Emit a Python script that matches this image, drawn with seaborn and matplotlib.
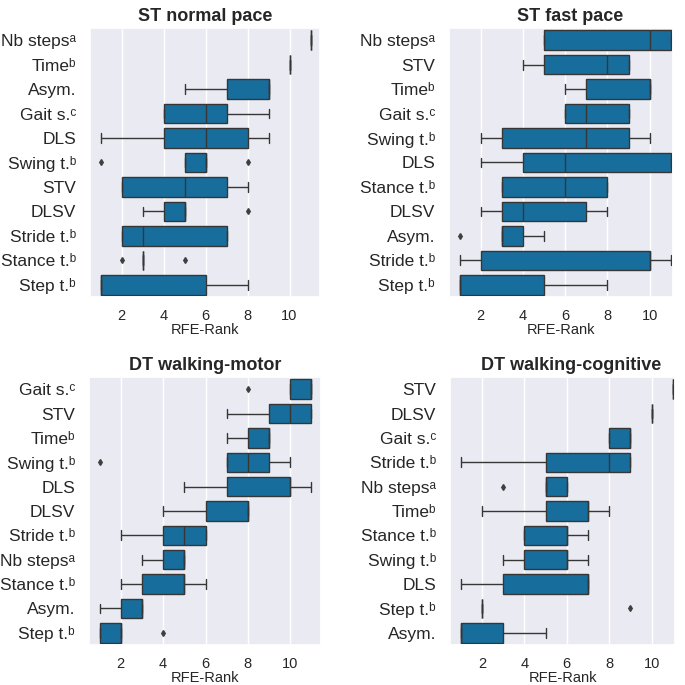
import pandas as pd
import matplotlib
matplotlib.use('Agg')
import matplotlib.pyplot as plt
import seaborn as sns

# feature labels (superscripts as in the paper)
NB = 'Nb steps\u1d43'
TIME = 'Time\u1d47'
GAIT = 'Gait s.\u1d9c'
SWING = 'Swing t.\u1d47'
STRIDE = 'Stride t.\u1d47'
STANCE = 'Stance t.\u1d47'
STEP = 'Step t.\u1d47'

# 1. RFE ranks per feature (5 values per feature)
normal_features = [NB, TIME, 'Asym.', GAIT, 'DLS', SWING, 'STV', 'DLSV', STRIDE, STANCE, STEP]
normal_ranks = [[11, 11, 11, 11, 11], [10, 10, 10, 10, 10], [5, 7, 9, 9, 9], [4, 4, 6, 7, 9],
                [1, 4, 6, 8, 9], [1, 5, 6, 6, 8], [2, 2, 5, 7, 8], [3, 4, 5, 5, 8],
                [2, 2, 3, 7, 7], [2, 3, 3, 3, 5], [1, 1, 1, 6, 8]]

fast_features = [NB, 'STV', TIME, GAIT, SWING, 'DLS', STANCE, 'DLSV', 'Asym.', STRIDE, STEP]
fast_ranks = [[5, 5, 10, 11, 11], [4, 5, 8, 9, 9], [6, 7, 10, 10, 10], [6, 6, 7, 9, 9],
              [2, 3, 7, 9, 10], [2, 4, 6, 11, 11], [3, 3, 6, 8, 8], [2, 3, 4, 7, 8],
              [1, 3, 3, 4, 5], [1, 2, 10, 10, 11], [1, 1, 1, 5, 8]]

motor_features = [GAIT, 'STV', TIME, SWING, 'DLS', 'DLSV', STRIDE, NB, STANCE, 'Asym.', STEP]
motor_ranks = [[8, 10, 11, 11, 11], [7, 9, 10, 11, 11], [7, 8, 9, 9, 9], [1, 7, 8, 9, 10],
               [5, 7, 10, 10, 11], [4, 6, 8, 8, 8], [2, 4, 5, 6, 6], [3, 4, 5, 5, 5],
               [2, 3, 5, 5, 6], [1, 2, 3, 3, 3], [1, 1, 2, 2, 4]]

cog_features = ['STV', 'DLSV', GAIT, STRIDE, NB, TIME, STANCE, SWING, 'DLS', STEP, 'Asym.']
cog_ranks = [[11, 11, 11, 11, 11], [10, 10, 10, 10, 10], [8, 8, 9, 9, 9], [1, 5, 8, 9, 9],
             [3, 5, 5, 6, 6], [2, 5, 7, 7, 8], [4, 4, 6, 6, 7], [3, 4, 6, 6, 7],
             [1, 3, 7, 7, 7], [2, 2, 2, 2, 9], [1, 1, 1, 3, 5]]

titles = ['ST normal pace', 'ST fast pace', 'DT walking-motor', 'DT walking-cognitive']
panels = [(normal_features, normal_ranks), (fast_features, fast_ranks),
          (motor_features, motor_ranks), (cog_features, cog_ranks)]


def to_long(features, ranks):
    rows = []
    for f, vals in zip(features, ranks):
        for v in vals:
            rows.append({'Feature': f, 'RFE-Rank': v})
    return pd.DataFrame(rows)


sns.set_theme(style='darkgrid')
plt.rcParams['font.family'] = ['Liberation Sans', 'DejaVu Sans']

fig = plt.figure(figsize=(6.85, 6.85), dpi=100)
# axes boxes in pixels: left, top, width, height
boxes = [(90, 28, 230, 269), (449, 28, 224, 269), (89, 377, 232, 268), (450, 377, 225, 268)]
box_color = sns.color_palette('colorblind')[0]
flier = dict(marker='d', markerfacecolor='#3f3f3f', markeredgecolor='#3f3f3f', markersize=3)

for (features, ranks), title, (l, t, w, h), i in zip(panels, titles, boxes, range(4)):
    ax = fig.add_axes([l / 685, 1 - (t + h) / 685, w / 685, h / 685])
    df = to_long(features, ranks)
    sns.boxplot(data=df, x='RFE-Rank', y='Feature', order=features, color=box_color,
                ax=ax, linewidth=1, flierprops=flier)
    # right-hand panels look cropped on the right in the original, title sits a bit right
    ax.set_title(title, fontsize=13, fontweight='bold', pad=5, x=0.54 if i % 2 else 0.5)
    ax.set_ylabel('')
    ax.set_xlabel('RFE-Rank', fontsize=10.5, labelpad=0)
    ax.set_xticks([2, 4, 6, 8, 10])
    ax.tick_params(axis='x', labelsize=10.5, pad=2.5)
    ax.tick_params(axis='y', labelsize=12.5, pad=4)
    if i % 2 == 1:
        ax.set_xlim(0.5, 11.1)
    else:
        ax.set_xlim(0.5, 11.45)

plt.savefig('out.png', dpi=100)
